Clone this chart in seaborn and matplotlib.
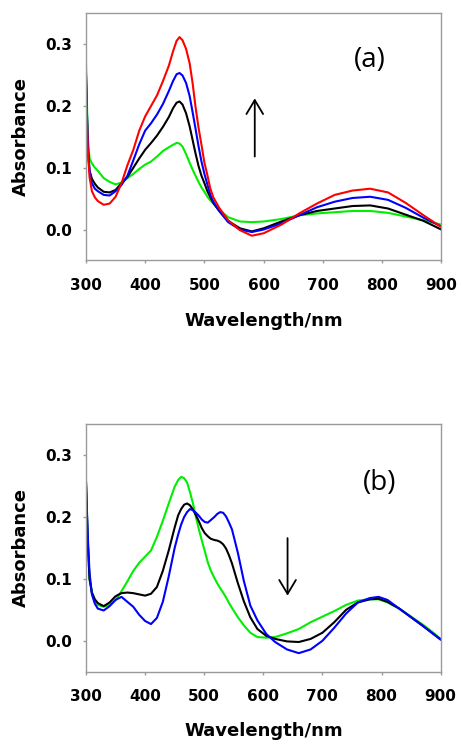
import numpy as np
import pandas as pd
import matplotlib
matplotlib.use("Agg")
import matplotlib.pyplot as plt
import seaborn as sns

# ---- panel (a): absorbance spectra ----
wl_a = [300, 303, 306, 310, 315, 320, 330, 340, 350, 360, 370, 380, 390, 400,
        410, 420, 430, 440, 447, 453, 458, 463, 469, 475, 480, 485, 490, 495,
        500, 505, 510, 515, 525, 540, 560, 580, 600, 630, 660, 690, 720, 750,
        780, 810, 840, 870, 900]
a_green = [0.269, 0.150, 0.115, 0.107, 0.100, 0.095, 0.083, 0.077, 0.073, 0.076,
           0.083, 0.090, 0.098, 0.105, 0.110, 0.118, 0.127, 0.133, 0.137, 0.140,
           0.139, 0.134, 0.122, 0.108, 0.097, 0.087, 0.077, 0.068, 0.061, 0.053,
           0.047, 0.042, 0.032, 0.020, 0.013, 0.012, 0.013, 0.017, 0.023, 0.026,
           0.028, 0.030, 0.030, 0.027, 0.021, 0.015, 0.008]
a_black = [0.254, 0.130, 0.095, 0.082, 0.074, 0.068, 0.061, 0.060, 0.064, 0.075,
           0.085, 0.100, 0.115, 0.129, 0.140, 0.152, 0.166, 0.182, 0.196, 0.205,
           0.207, 0.202, 0.188, 0.167, 0.145, 0.123, 0.103, 0.087, 0.075, 0.062,
           0.052, 0.043, 0.030, 0.014, 0.002, -0.003, 0.002, 0.013, 0.023, 0.030,
           0.034, 0.038, 0.039, 0.034, 0.024, 0.014, 0.000]
a_blue = [0.247, 0.140, 0.095, 0.075, 0.066, 0.062, 0.056, 0.055, 0.062, 0.072,
          0.087, 0.112, 0.138, 0.160, 0.172, 0.186, 0.203, 0.224, 0.240, 0.251,
          0.253, 0.249, 0.237, 0.216, 0.190, 0.163, 0.135, 0.110, 0.090, 0.073,
          0.056, 0.045, 0.030, 0.012, 0.000, -0.004, 0.000, 0.010, 0.023, 0.036,
          0.045, 0.051, 0.053, 0.048, 0.035, 0.019, 0.005]
a_red = [0.237, 0.130, 0.085, 0.062, 0.052, 0.046, 0.040, 0.042, 0.053, 0.075,
         0.104, 0.129, 0.160, 0.183, 0.200, 0.217, 0.240, 0.265, 0.288, 0.305,
         0.311, 0.306, 0.292, 0.269, 0.237, 0.198, 0.165, 0.137, 0.108, 0.088,
         0.066, 0.052, 0.035, 0.015, -0.001, -0.010, -0.006, 0.008, 0.026, 0.042,
         0.056, 0.063, 0.066, 0.060, 0.043, 0.023, 0.004]

# ---- panel (b): absorbance spectra ----
wl_b = [300, 303, 306, 310, 315, 320, 330, 340, 350, 360, 370, 380, 390, 400,
        410, 420, 430, 440, 450, 456, 461, 466, 471, 476, 481, 486, 491, 496,
        501, 506, 511, 517, 522, 527, 532, 537, 542, 547, 557, 567, 578, 590,
        605, 620, 640, 660, 680, 700, 720, 740, 760, 780, 795, 810, 830, 850,
        870, 885, 900]
b_green = [0.258, 0.160, 0.100, 0.078, 0.065, 0.058, 0.055, 0.058, 0.066, 0.080,
           0.096, 0.113, 0.126, 0.136, 0.146, 0.168, 0.194, 0.222, 0.249, 0.260,
           0.265, 0.263, 0.256, 0.240, 0.222, 0.200, 0.180, 0.162, 0.145, 0.127,
           0.114, 0.102, 0.093, 0.085, 0.078, 0.070, 0.061, 0.053, 0.038, 0.025,
           0.013, 0.006, 0.005, 0.006, 0.012, 0.019, 0.030, 0.039, 0.048, 0.058,
           0.065, 0.067, 0.067, 0.062, 0.052, 0.039, 0.026, 0.015, 0.003]
b_black = [0.258, 0.160, 0.100, 0.078, 0.067, 0.061, 0.056, 0.062, 0.072, 0.077,
           0.078, 0.077, 0.075, 0.073, 0.076, 0.087, 0.113, 0.146, 0.183, 0.203,
           0.213, 0.220, 0.222, 0.219, 0.212, 0.203, 0.193, 0.182, 0.174, 0.169,
           0.165, 0.163, 0.162, 0.160, 0.156, 0.149, 0.138, 0.125, 0.093, 0.064,
           0.038, 0.019, 0.008, 0.003, -0.001, -0.002, 0.003, 0.013, 0.030, 0.050,
           0.062, 0.067, 0.068, 0.063, 0.052, 0.038, 0.024, 0.013, 0.002]
b_blue = [0.258, 0.170, 0.110, 0.075, 0.060, 0.052, 0.049, 0.056, 0.066, 0.071,
          0.063, 0.055, 0.042, 0.032, 0.027, 0.037, 0.063, 0.104, 0.150, 0.172,
          0.188, 0.200, 0.208, 0.213, 0.211, 0.207, 0.202, 0.196, 0.192, 0.191,
          0.195, 0.200, 0.205, 0.208, 0.207, 0.201, 0.191, 0.180, 0.142, 0.097,
          0.057, 0.033, 0.011, -0.002, -0.014, -0.020, -0.014, 0.000, 0.021, 0.044,
          0.062, 0.069, 0.071, 0.066, 0.052, 0.038, 0.024, 0.013, 0.002]

x_ticks = [300, 400, 500, 600, 700, 800, 900]
y_ticks = [0.0, 0.1, 0.2, 0.3]
x_label = "Wavelength/nm"
y_label = "Absorbance"

colors = {"green": "#00ee00", "black": "#000000", "blue": "#0000ff", "red": "#ff0000"}


def long_frame(wl, series):
    parts = []
    for name, vals in series.items():
        parts.append(pd.DataFrame({"wl": wl, "abs": vals, "trace": name}))
    return pd.concat(parts, ignore_index=True)


df_a = long_frame(wl_a, {"green": a_green, "black": a_black,
                         "blue": a_blue, "red": a_red})
df_b = long_frame(wl_b, {"green": b_green, "black": b_black, "blue": b_blue})

sns.set_style("ticks")
plt.rcParams["font.family"] = ["DejaVu Sans"]
plt.rcParams["text.color"] = "black"
plt.rcParams["axes.labelcolor"] = "black"
plt.rcParams["xtick.labelcolor"] = "black"
plt.rcParams["ytick.labelcolor"] = "black"

fig = plt.figure(figsize=(4.62, 7.47), dpi=100)
ax_a = fig.add_axes([0.1861, 0.6513, 0.7691, 0.3313])
ax_b = fig.add_axes([0.1861, 0.1008, 0.7677, 0.3312])

for ax, df, order in ((ax_a, df_a, ["green", "black", "blue", "red"]),
                      (ax_b, df_b, ["green", "black", "blue"])):
    sns.lineplot(data=df, x="wl", y="abs", hue="trace", hue_order=order,
                 palette=colors, estimator=None, sort=False, linewidth=1.5,
                 legend=False, ax=ax)
    ax.set_xlim(300, 900)
    ax.set_ylim(-0.05, 0.35)
    ax.set_xticks(x_ticks)
    ax.set_yticks(y_ticks)
    ax.set_xticklabels([str(t) for t in x_ticks])
    ax.set_yticklabels([f"{t:.1f}" for t in y_ticks])
    for sp in ax.spines.values():
        sp.set_color("#9a9a9a")
        sp.set_linewidth(1.0)
    ax.tick_params(axis="both", direction="out", length=2.5, width=1.0,
                   color="#9a9a9a", labelcolor="black", labelsize=11)
    ax.tick_params(axis="x", pad=10)
    ax.tick_params(axis="y", pad=7.5)
    for lab in ax.get_xticklabels() + ax.get_yticklabels():
        lab.set_fontweight("bold")
    ax.set_xlabel(x_label, fontsize=13, fontweight="bold", color="black")
    ax.set_ylabel(y_label, fontsize=13, fontweight="bold", color="black")
    ax.yaxis.set_label_coords(-0.157, 0.5)

ax_a.xaxis.set_label_coords(0.5, -0.21)
ax_b.xaxis.set_label_coords(0.5, -0.205)

# panel tags
ax_a.text(779, 0.2745, "(a)", fontsize=20, family="Open Sans",
          ha="center", va="center", color="black")
ax_b.text(796, 0.255, "(b)", fontsize=20, family="Open Sans",
          ha="center", va="center", color="black")

# trend arrows
arrow_style = dict(arrowstyle="->,head_length=1.0,head_width=0.6",
                   color="black", lw=1.3, mutation_scale=10,
                   shrinkA=0, shrinkB=0)
ax_a.annotate("", xy=(585, 0.212), xytext=(585, 0.118), arrowprops=arrow_style)
ax_b.annotate("", xy=(641, 0.073), xytext=(641, 0.166), arrowprops=arrow_style)

fig.savefig("out.png", dpi=100)
